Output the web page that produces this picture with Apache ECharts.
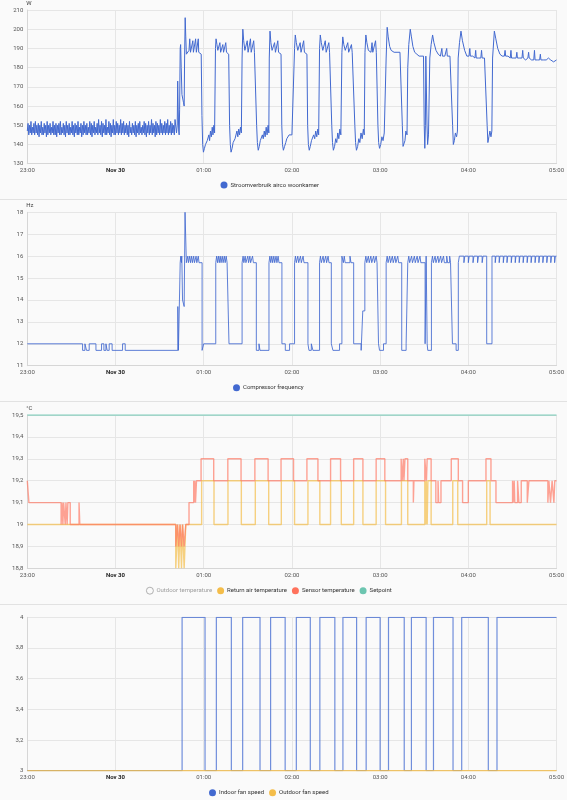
<!DOCTYPE html>
<html>
<head>
<meta charset="utf-8">
<script src="https://cdn.jsdelivr.net/npm/echarts@6/dist/echarts.min.js"></script>
<style>
  html, body { margin: 0; padding: 0; background: #fafafa; }
  #chart { width: 567px; height: 800px; position: relative; }
  .sep { position: absolute; left: 0; width: 567px; height: 1px; background: #e2e2e2; }
</style>
</head>
<body>
<div id="chart"></div>
<div class="sep" style="top:199px"></div>
<div class="sep" style="top:401px"></div>
<div class="sep" style="top:604px"></div>
<script>
// ---- time axis (minutes since 23:00) ----
const timeLabels = ['23:00', 'Nov 30', '01:00', '02:00', '03:00', '04:00', '05:00'];

// ---- Panel 1: power (W) ----
const powerIdleStepMinutes = 0.5; // sampling interval of the idle period, starting 23:00
const powerIdleValues = [
  147,151,145,150,146,152,145,149,146,151,145,152,146,150,145,
  151,144,150,146,152,145,149,145,151,146,150,144,152,145,150,
  146,151,145,149,146,152,145,150,145,151,144,150,146,151,145,
  152,145,149,146,151,145,150,144,152,146,150,145,151,145,149,
  146,152,145,150,144,151,146,150,145,152,145,149,146,151,144,
  150,145,152,146,150,145,151,145,149,146,152,145,151,144,150,
  146,152,145,149,146,151,145,153,146,150,145,152,144,151,146,
  150,145,153,145,149,146,152,145,151,144,150,146,153,145,150,
  145,152,146,151,145,150,146,153,145,151,146,152,145,150,146,
  151,145,150,144,152,146,149,145,151,146,150,145,152,144,150,
  146,151,145,152,146,149,145,150,146,152,145,151,144,150,146,
  152,145,150,146,153,145,151,146,150,144,152,145,151,146,150,
  145,153,146,151,145,150,146,152,145,151,146,153,145,150,146,
  152,145,151,146,150,145,153
];
const powerActive = [
  [101.5,146],[102.0,150],[102.3,173],[102.6,160],[103.0,147],[103.3,145],[103.6,158],[104.0,190],[104.3,192],[104.7,180],
  [105.2,166],[105.6,165],[106.2,162],[106.7,160],[107.0,185],[107.4,206],[107.8,196],[108.2,187],[109,188],[110,189],
  [110.5,195],[111,188],[112,188],[112.6,194],[113,188],[114,189],[114.5,195],[115,188],[116,188],[116.3,195],[116.6,188],
  [117.5,188],[118.3,187],
  [118.8,155],[119.3,140],[119.8,136],[120.5,138],[121.2,140],[121.8,139],[122.4,142],[123,141],[123.5,145],[124,142],
  [124.6,147],[125.2,144],[125.8,149],[126.3,145],[126.9,150],[127.4,146],
  [128.0,190],[128.4,195],[129,192],[129.6,189],[130.3,188],[131,193],[131.5,188],[132.3,188],[133,192],[133.5,188],
  [134.5,188],[135,193],[135.5,188],[136.5,188],[137.0,187],
  [137.6,150],[138.1,140],[138.6,136],[139.3,138],[140,141],[140.7,140],[141.3,143],[142,142],[142.6,147],[143.2,144],
  [143.8,148],[144.4,145],[145,149],[145.6,146],
  [146.1,185],[146.6,200],[147.2,194],[148,189],[149,188],[149.6,194],[150.2,188],[151.2,188],[151.8,195],[152.3,188],
  [153.4,188],[154,194],[154.5,188],[155.5,187],
  [156.0,150],[156.5,141],[157.1,137],[157.8,139],[158.5,142],[159.2,141],[159.9,145],[160.5,143],[161.2,147],[161.8,144],
  [162.5,149],[163.1,145],[163.8,150],[164.3,146],
  [164.6,185],[165.1,199],[165.7,193],[166.5,189],[167.5,188],[168.2,193],[168.8,188],[169.8,188],[170.4,194],[170.9,188],
  [172,188],[172.6,187],
  [173.1,150],[173.6,140],[174.2,137],[175,139],[175.8,141],[176.5,143],[177.3,144],[178.1,145],[179,145],[180,145],[181.2,146],
  [181.8,190],[182.3,197],[183,193],[184,189],[185,188],[185.6,193],[186.2,188],[187.3,188],[188,194],[188.5,188],
  [189.5,188],[190.2,187],
  [190.7,150],[191.2,140],[191.8,137],[192.5,139],[193.3,142],[194,141],[194.8,145],[195.5,143],[196.2,147],[196.9,144],
  [197.6,148],[198.2,145],
  [198.8,190],[199.3,197],[200,193],[201,189],[202,188],[202.7,194],[203.3,188],[204.5,188],[205.1,193],[205.6,188],[206.6,187],
  [207.1,150],[207.6,141],[208.2,137],[209,139],[209.8,143],[210.5,141],[211.2,146],[211.9,143],[212.6,148],[213.3,145],
  [214.0,188],[214.6,196],[215.3,192],[216.3,189],[217.3,188],[218,193],[218.6,188],[219.8,188],[220.5,192],[221,188],[222.3,187],
  [222.8,150],[223.3,141],[223.9,137],[224.7,139],[225.5,143],[226.2,141],[227,146],[227.8,143],[228.6,148],[229.2,145],
  [229.7,188],[230.3,197],[231,193],[232,189],[233,188],[233.8,188],[234.5,193],[235,188],[236.3,188],[236.9,194],[237.4,188],[238.0,187],
  [238.5,150],[239,141],[239.6,138],[240.4,140],[241.2,144],[242,142],[242.8,146],[243.5,145],
  [244.1,185],[244.8,201],[245.5,196],[246.5,191],[247.5,189],[248.5,188],[249.5,188],[250.5,188],[251.5,188],[252.5,188],
  [253.5,188],[254.6,187],
  [255.1,150],[255.6,139],[256.2,138],[256.9,142],[257.5,147],[258.3,145],
  [258.8,180],[259.5,192],[260.5,200],[261.3,196],[262.3,191],[263.5,188],[265,187],[266.5,186],[267.5,186],[269.5,186],
  [270.0,150],[270.4,138],[270.8,150],[271.1,186],[271.5,186],[271.9,150],[272.3,140],[272.9,145],[273.4,146],
  [273.8,185],[274.7,192],[275.7,197],[276.6,193],[278,189],[279.5,187],[281,186],[282,190],[282.4,186],[284,186],
  [285.3,190],[285.7,186],[287.5,186],[288.8,186],
  [289.3,150],[289.8,140],[290.5,142],[291.2,146],[292,144],[292.6,147],
  [293.1,185],[294,193],[295,199],[296,194],[297.5,189],[299,186],[300.5,186],[301,190],[301.4,186],[303,186],[304.5,185],
  [305,189],[305.4,185],[307,185],[308.5,185],[309,189],[309.4,185],[311,185],[312.3,185],
  [312.8,150],[313.3,141],[314,144],[314.7,147],[315.4,144],[316,147],
  [316.5,185],[317.7,199],[318.7,195],[320,190],[321.5,187],[323,186],[324.5,186],[325,189],[325.4,186],[327,186],
  [328.5,185],[329,189],[329.4,185],[331,185],[332.5,185],[333,188],[333.4,185],[335,185],[336.5,185],[337,189],
  [337.4,185],[339,184],[340.5,185],[341,188],[341.4,185],[343,184],[344.5,184],[345,189],[345.4,184],[347,184],
  [348.5,184],[349,187],[349.4,184],[351,184],[353,184],[354.5,185],[356,184],[358,183],[360,184]
];

// ---- Panel 2: compressor frequency (Hz), value holds from time until next ----
const compressor = [
  [0,12],[37.6,11.7],[39.2,12],[40.3,11.7],[42.1,12],[46.7,11.7],[50.5,12],[52.1,11.7],[53.5,12],[54.3,11.7],
  [55.7,12],[57.7,11.7],[64.8,12],[66.6,11.7],[102.4,13.7],[102.8,11.7],[104.0,15.7],[104.4,16],[104.8,15.7],[105.1,16],
  [105.6,14],[106.7,13.7],[107.3,18],[108.2,15.7],[109.2,16],[109.6,15.7],[110.5,16],[111,15.7],[111.8,16],[112.3,15.7],
  [113.2,16],[113.7,15.7],[114.8,16],[115.3,15.7],[116.3,16],[116.8,15.7],[118.9,11.7],[120.0,12],
  [128.2,15.7],[128.8,16],[129.4,15.7],[130,16],[130.6,15.7],[131.2,16],[131.8,15.7],[132.6,16],[133.2,15.7],[134,16],
  [134.6,15.7],[135.3,16],[135.9,15.7],[137.2,12],
  [146.1,15.7],[146.8,16],[147.3,15.7],[148.2,16],[148.7,15.7],[150,16],[150.5,15.7],[151.4,16],[151.9,15.7],[153.2,16],
  [153.8,15.7],[155.8,11.7],[157.6,12],[158.3,11.7],
  [164.4,15.7],[165,16],[165.6,15.7],[166.3,16],[166.9,15.7],[167.7,16],[168.3,15.7],[169.2,16],[169.8,15.7],[170.6,16],
  [171.2,15.7],[173.2,12],[175.5,11.7],[178.4,12],
  [181.8,15.7],[182.4,16],[183,15.7],[184,16],[184.6,15.7],[185.8,16],[186.4,15.7],[187.6,16],[188.2,15.7],
  [190.9,12],[191.6,11.7],[193.2,12],[194.3,11.7],
  [198.8,15.7],[199.4,16],[200,15.7],[201.2,16],[201.8,15.7],[203,16],[203.6,15.7],[204.6,16],[205.2,15.7],
  [206.8,12],[207.9,11.7],[212.4,12],
  [214,16],[215,15.7],[215.6,16],[216.2,15.7],[219.5,16],[220.2,15.7],
  [222,12],[227.1,11.7],[228.2,13.5],
  [229.6,15.7],[230.3,16],[230.9,15.7],[232,16],[232.6,15.7],[233.7,16],[234.3,15.7],[235.6,16],[236.2,15.7],[237.3,16],[237.9,15.7],
  [238.9,12],[239.6,11.7],[242.3,12],
  [244.1,15.7],[244.8,16],[245.4,15.7],[246.5,16],[247.1,15.7],[248.3,16],[248.9,15.7],[250.1,16],[250.7,15.7],[252,16],[252.6,15.7],
  [254.7,11.7],[257.7,12],
  [258.8,15.7],[259.5,16],[260.1,15.7],[261.4,16],[262,15.7],[263.3,16],[263.9,15.7],[265.2,16],[265.8,15.7],[267.1,16],[267.7,15.7],
  [270.6,12],[271.3,16],[272.0,12],[272.4,11.7],
  [274.9,15.7],[275.6,16],[276.2,15.7],[277.4,16],[278,15.7],[279.3,16],[279.9,15.7],[281.2,16],[281.8,15.7],[283.1,16],
  [283.7,15.7],[285.3,16],[285.9,15.7],[287.3,16],[287.9,15.7],
  [289.2,12],[291.7,11.7],
  [293.2,15.7],[293.9,16],[297,15.7],[297.6,16],[300,15.7],[300.6,16],[303.2,15.7],[303.8,16],[306.3,15.7],[306.9,16],
  [309.4,15.7],[310,16],
  [312.5,12],
  [316.1,16],[318.3,15.7],[318.8,16],[321,15.7],[321.5,16],[323.8,15.7],[324.3,16],[326.3,15.7],[326.8,16],[329.2,15.7],
  [329.7,16],[331.9,15.7],[332.4,16],[334.6,15.7],[335.1,16],[337.3,15.7],[337.8,16],[340,15.7],[340.5,16],[342.7,15.7],
  [343.2,16],[345.4,15.7],[345.9,16],[348,15.7],[348.5,16],[350.7,15.7],[351.2,16],[353.4,15.7],[353.9,16],[356.1,15.7],
  [356.6,16],[358.7,15.7],[359.2,16],[360,16]
];

// ---- Panel 3: temperatures (°C) ----
const outdoorTemp = [];
const returnAir = [
  [0,19.0],[101.0,18.8],[102.2,19.0],[103.0,18.8],[103.9,19.0],[104.9,18.8],[105.6,19.0],[106.7,18.8],[107.8,19.0],
  [118.6,19.2],[127.0,19.0],[136.5,19.2],[145.6,19.0],[155.1,19.2],[164.2,19.0],[172.8,19.2],[181.8,19.0],
  [190.9,19.2],[199.0,19.0],[206.3,19.2],[213.6,19.0],[222.0,19.2],[228.3,19.0],[237.3,19.2],[243.7,19.0],
  [254.5,19.2],[258.8,19.0],[270.4,19.2],[271.0,19.0],[271.4,19.2],[272.0,19.0],[272.5,19.2],[274.7,19.0],
  [289.4,19.2],[292.8,19.0],[312.5,19.2],[314.8,19.0],[360,19.0]
];
const sensorTemp = [
  [0,19.2],[1.1,19.1],[23.0,19.0],[23.6,19.1],[24.2,19.0],[24.7,19.1],[25.8,19.0],[26.3,19.1],[27.1,19.0],[27.6,19.1],
  [29.2,19.0],[35.2,19.1],[35.7,19.0],[101.0,18.9],[102.2,19.0],[103.0,18.9],[103.9,19.0],[104.9,18.9],[105.6,19.0],
  [106.7,18.9],[107.8,19.0],[110.0,19.1],[113.2,19.2],[113.6,19.1],[114.0,19.2],[114.4,19.1],[115.1,19.2],
  [118.2,19.3],[126.8,19.2],[136.4,19.3],[145.4,19.2],[154.8,19.3],[163.8,19.2],[172.6,19.3],[181.1,19.2],
  [190.2,19.3],[197.7,19.2],[206.3,19.3],[213.1,19.2],[222.0,19.3],[228.3,19.2],[237.3,19.3],[243.2,19.2],
  [254.3,19.3],[255.0,19.2],[255.8,19.3],[256.2,19.2],[256.9,19.3],[258.8,19.2],[262.6,19.1],[263.0,19.2],
  [270.4,19.3],[271.5,19.2],[272.0,19.3],[274.7,19.2],[277.9,19.1],[279.4,19.2],[279.8,19.1],[281.4,19.2],
  [288.4,19.3],[293.2,19.2],[296.1,19.1],[300.0,19.2],[312.0,19.3],[315.4,19.2],[318.8,19.1],[330.1,19.2],
  [330.5,19.1],[331.2,19.2],[331.6,19.1],[333.5,19.2],[334.4,19.1],[336.0,19.2],[340.1,19.1],[341.2,19.2],
  [354.1,19.1],[354.8,19.2],[355.9,19.1],[357.0,19.2],[358.2,19.1],[358.8,19.2],[360,19.2]
];
const setpoint = [[0,19.5],[360,19.5]];

// ---- Panel 4: fan speeds ----
const indoorFan = [
  [0,3],[105.3,4],[120.9,3],[128.6,4],[138.8,3],[146.5,4],[158.3,3],[165.5,4],[175.4,3],[183.0,4],[192.5,3],
  [199.0,4],[209.2,3],[214.7,4],[224.0,3],[230.5,4],[240.0,3],[245.7,4],[256.4,3],[261.3,4],[271.3,3],[276.3,4],
  [289.6,3],[295.5,4],[313.6,3],[319.5,4],[360,4]
];
const outdoorFan = [[0,3],[360,3]];

// ---- build ----
const powerData = powerIdleValues.map((v, i) => [i * powerIdleStepMinutes, v]).concat(powerActive);

const FONT = 'Roboto';
const gridTops = [9.7, 212.3, 415, 617.3];
const gridHeights = [154, 153.4, 153.3, 153.4];
const legendTops = [181.5, 384.2, 586.8, 789.2];
const legendLefts = [220.5, 233, 146, 209];

const comma = v => String(Number(v.toFixed(1))).replace('.', ',');

const xAxes = gridTops.map((t, i) => ({
  type: 'value', gridIndex: i, min: 0, max: 360, interval: 60,
  axisLine: { show: true, lineStyle: { color: '#d6d6d6', width: 1 } },
  axisTick: { show: false },
  splitLine: { show: true, lineStyle: { color: '#e6e6e6', width: 1 } },
  axisLabel: {
    fontFamily: FONT, fontSize: 6, color: '#555', margin: 4,
    formatter: v => { const s = timeLabels[Math.round(v / 60)]; return v === 60 ? '{b|' + s + '}' : s; },
    rich: { b: { fontWeight: 'bold', fontFamily: FONT, fontSize: 6, color: '#222' } }
  }
}));

function yAxis(i, min, max, interval, name, fmt) {
  return {
    type: 'value', gridIndex: i, min, max, interval,
    name: name, nameLocation: 'end', nameGap: 4,
    nameTextStyle: { fontFamily: FONT, fontSize: 6, color: '#444', align: 'left', padding: [0, 0, 0, -1] },
    axisLine: { show: true, lineStyle: { color: '#d6d6d6', width: 1 } },
    axisTick: { show: false },
    splitLine: { show: true, lineStyle: { color: '#e6e6e6', width: 1 } },
    axisLabel: { fontFamily: FONT, fontSize: 6, color: '#555', margin: 4, formatter: fmt }
  };
}

const yAxes = [
  yAxis(0, 130, 210, 10, 'W', v => String(v)),
  yAxis(1, 11, 18, 1, 'Hz', v => String(v)),
  yAxis(2, 18.8, 19.5, 0.1, '°C', comma),
  yAxis(3, 3, 4, 0.2, '', comma)
];

const legendBase = {
  icon: 'circle', itemWidth: 7, itemHeight: 7, itemGap: 5, padding: 0,
  textStyle: { fontFamily: FONT, fontSize: 6, color: '#333', padding: [0, 0, 0, -2] }
};

const option = {
  animation: false,
  backgroundColor: '#fafafa',
  grid: gridTops.map((t, i) => ({ left: 27.3, right: 9.7, top: t, height: gridHeights[i], containLabel: false })),
  xAxis: xAxes,
  yAxis: yAxes,
  legend: [
    Object.assign({}, legendBase, { left: legendLefts[0], top: legendTops[0], data: ['Stroomverbruik airco woonkamer'] }),
    Object.assign({}, legendBase, { left: legendLefts[1], top: legendTops[1], data: ['Compressor frequency'] }),
    Object.assign({}, legendBase, { left: legendLefts[2], top: legendTops[2], data: [
      { name: 'Outdoor temperature', itemStyle: { color: '#fafafa', borderColor: '#9e9e9e', borderWidth: 0.8 }, textStyle: { color: '#9e9e9e' } },
      'Return air temperature', 'Sensor temperature', 'Setpoint'] }),
    Object.assign({}, legendBase, { left: legendLefts[3], top: legendTops[3], data: ['Indoor fan speed', 'Outdoor fan speed'] })
  ],
  series: [
    { name: 'Stroomverbruik airco woonkamer', type: 'line', xAxisIndex: 0, yAxisIndex: 0, data: powerData,
      showSymbol: false, color: '#4269d0', lineStyle: { width: 1, color: '#4269d0' } },
    { name: 'Compressor frequency', type: 'line', step: 'end', xAxisIndex: 1, yAxisIndex: 1, data: compressor,
      showSymbol: false, color: '#4269d0', lineStyle: { width: 1, color: '#4269d0', opacity: 0.85 } },
    { name: 'Outdoor temperature', type: 'line', xAxisIndex: 2, yAxisIndex: 2, data: outdoorTemp,
      showSymbol: false, color: '#9e9e9e' },
    { name: 'Return air temperature', type: 'line', step: 'end', xAxisIndex: 2, yAxisIndex: 2, data: returnAir,
      showSymbol: false, color: '#f4bd4a', lineStyle: { width: 1.4, color: '#f4bd4a', opacity: 0.7 } },
    { name: 'Sensor temperature', type: 'line', step: 'end', xAxisIndex: 2, yAxisIndex: 2, data: sensorTemp,
      showSymbol: false, color: '#ff725c', lineStyle: { width: 1.4, color: '#ff725c', opacity: 0.65 } },
    { name: 'Setpoint', type: 'line', step: 'end', xAxisIndex: 2, yAxisIndex: 2, data: setpoint,
      showSymbol: false, color: '#6cc5b0', lineStyle: { width: 1.4, color: '#6cc5b0', opacity: 0.75 } },
    { name: 'Indoor fan speed', type: 'line', step: 'end', xAxisIndex: 3, yAxisIndex: 3, data: indoorFan,
      showSymbol: false, color: '#4269d0', lineStyle: { width: 1.2, color: '#4269d0', opacity: 0.75 } },
    { name: 'Outdoor fan speed', type: 'line', step: 'end', xAxisIndex: 3, yAxisIndex: 3, data: outdoorFan,
      showSymbol: false, color: '#f4bd4a', lineStyle: { width: 1.4, color: '#f4bd4a', opacity: 0.8 } }
  ]
};

const chart = echarts.init(document.getElementById('chart'), null, { renderer: 'canvas' });
chart.setOption(option);
</script>
</body>
</html>
